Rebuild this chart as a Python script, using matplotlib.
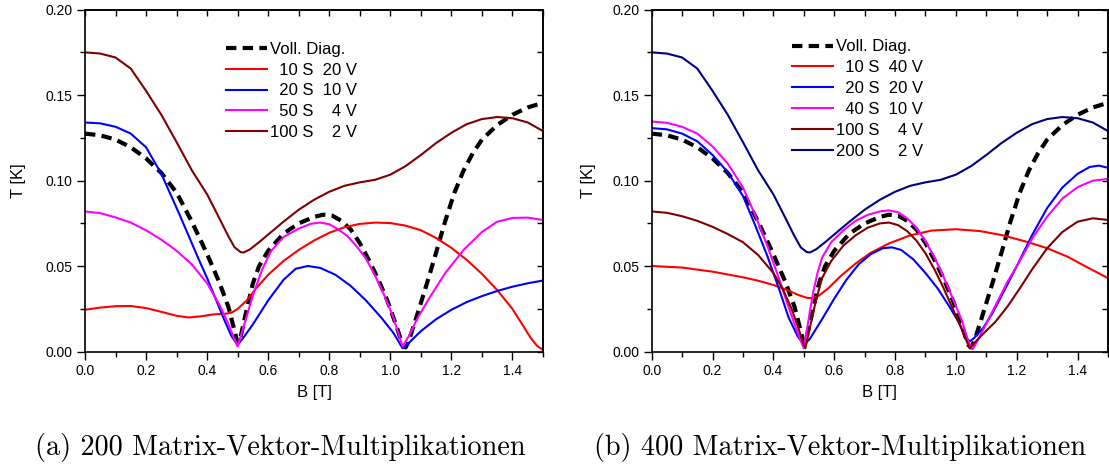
import matplotlib
matplotlib.use("Agg")
import matplotlib.pyplot as plt
from matplotlib.ticker import MultipleLocator, FormatStrFormatter, NullFormatter

plt.rcParams['font.family'] = ['Liberation Sans', 'DejaVu Sans']

# ---------------- data (B in T, T in K) ----------------
# exact diagonalisation (same in both panels)
diag_B = [0.00, 0.05, 0.10, 0.15, 0.20, 0.25, 0.30, 0.35, 0.40, 0.44, 0.47, 0.49, 0.50, 0.51,
          0.53, 0.55, 0.57, 0.60, 0.65, 0.70, 0.75, 0.78, 0.81, 0.84, 0.87, 0.90, 0.93, 0.96,
          0.99, 1.02, 1.04, 1.05, 1.06, 1.08, 1.10, 1.12, 1.15, 1.18, 1.21, 1.24, 1.27, 1.30,
          1.35, 1.40, 1.45, 1.50]
diag_T = [0.1275, 0.1265, 0.1240, 0.1195, 0.1130, 0.1045, 0.0930, 0.0760, 0.0570, 0.0405, 0.0260,
          0.0120, 0.0050, 0.0090, 0.0250, 0.0400, 0.0500, 0.0590, 0.0690, 0.0750, 0.0788, 0.0801,
          0.0795, 0.0765, 0.0715, 0.0635, 0.0535, 0.0425, 0.0300, 0.0150, 0.0040, 0.0025, 0.0060,
          0.0170, 0.0285, 0.0400, 0.0580, 0.0765, 0.0930, 0.1060, 0.1160, 0.1240, 0.1325, 0.1385,
          0.1428, 0.1455]

# curve with 2 vectors (100 S in (a), 200 S in (b))
v2_B = [0.00, 0.05, 0.10, 0.15, 0.20, 0.25, 0.30, 0.35, 0.40, 0.44, 0.47, 0.49, 0.51, 0.52, 0.54,
        0.57, 0.60, 0.65, 0.70, 0.75, 0.80, 0.85, 0.90, 0.95, 1.00, 1.05, 1.10, 1.15, 1.20, 1.25,
        1.30, 1.35, 1.40, 1.45, 1.50]
v2_T = [0.1750, 0.1743, 0.1720, 0.1655, 0.1525, 0.1385, 0.1225, 0.1060, 0.0920, 0.0780, 0.0673,
        0.0610, 0.0582, 0.0580, 0.0598, 0.0640, 0.0685, 0.0760, 0.0830, 0.0888, 0.0935, 0.0970,
        0.0990, 0.1005, 0.1035, 0.1085, 0.1150, 0.1220, 0.1280, 0.1330, 0.1360, 0.1372, 0.1365,
        0.1340, 0.1290]

# panel (a): 200 matrix-vector multiplications
a_red_B = [0.00, 0.05, 0.10, 0.15, 0.20, 0.25, 0.30, 0.34, 0.38, 0.42, 0.46, 0.48, 0.50, 0.53, 0.56,
           0.60, 0.65, 0.70, 0.75, 0.80, 0.85, 0.90, 0.95, 1.00, 1.05, 1.10, 1.15, 1.20, 1.25, 1.30,
           1.35, 1.40, 1.43, 1.46, 1.48, 1.50]
a_red_T = [0.0245, 0.0258, 0.0266, 0.0267, 0.0255, 0.0233, 0.0210, 0.0200, 0.0207, 0.0218, 0.0222,
           0.0228, 0.0250, 0.0300, 0.0370, 0.0450, 0.0530, 0.0595, 0.0650, 0.0695, 0.0728, 0.0747,
           0.0755, 0.0752, 0.0737, 0.0710, 0.0665, 0.0607, 0.0537, 0.0455, 0.0360, 0.0250, 0.0165,
           0.0080, 0.0035, 0.0010]

a_blue_B = [0.00, 0.05, 0.10, 0.15, 0.20, 0.25, 0.28, 0.31, 0.34, 0.37, 0.40, 0.43, 0.46, 0.48, 0.50,
            0.52, 0.55, 0.60, 0.65, 0.69, 0.73, 0.77, 0.82, 0.87, 0.92, 0.97, 1.01, 1.04, 1.06, 1.10,
            1.15, 1.20, 1.25, 1.30, 1.35, 1.40, 1.45, 1.50]
a_blue_T = [0.1340, 0.1335, 0.1315, 0.1275, 0.1195, 0.1040, 0.0920, 0.0800, 0.0675, 0.0550, 0.0430,
            0.0300, 0.0170, 0.0090, 0.0040, 0.0085, 0.0160, 0.0300, 0.0420, 0.0485, 0.0501, 0.0490,
            0.0450, 0.0385, 0.0300, 0.0200, 0.0110, 0.0020, 0.0050, 0.0120, 0.0190, 0.0245, 0.0290,
            0.0325, 0.0355, 0.0380, 0.0400, 0.0416]

a_mag_B = [0.00, 0.05, 0.10, 0.15, 0.20, 0.25, 0.30, 0.35, 0.40, 0.44, 0.47, 0.49, 0.50, 0.52, 0.55,
           0.58, 0.61, 0.65, 0.70, 0.74, 0.77, 0.80, 0.83, 0.86, 0.89, 0.92, 0.95, 0.98, 1.01, 1.04,
           1.06, 1.09, 1.13, 1.18, 1.24, 1.30, 1.35, 1.40, 1.45, 1.50]
a_mag_T = [0.0820, 0.0810, 0.0785, 0.0755, 0.0710, 0.0655, 0.0590, 0.0510, 0.0400, 0.0275, 0.0160,
           0.0070, 0.0030, 0.0150, 0.0330, 0.0480, 0.0590, 0.0670, 0.0720, 0.0748, 0.0755, 0.0745,
           0.0715, 0.0675, 0.0615, 0.0545, 0.0445, 0.0330, 0.0200, 0.0030, 0.0090, 0.0200, 0.0320,
           0.0460, 0.0595, 0.0700, 0.0760, 0.0782, 0.0784, 0.0770]

# panel (b): 400 matrix-vector multiplications
b_red_B = [0.00, 0.10, 0.20, 0.30, 0.35, 0.40, 0.45, 0.48, 0.51, 0.53, 0.55, 0.58, 0.62, 0.67, 0.72,
           0.78, 0.85, 0.92, 1.00, 1.08, 1.15, 1.23, 1.30, 1.37, 1.43, 1.50]
b_red_T = [0.0501, 0.0492, 0.0468, 0.0435, 0.0415, 0.0390, 0.0357, 0.0333, 0.0315, 0.0313, 0.0328,
           0.0370, 0.0440, 0.0515, 0.0578, 0.0633, 0.0680, 0.0708, 0.0716, 0.0705, 0.0682, 0.0644,
           0.0605, 0.0553, 0.0495, 0.0430]

b_blue_B = [0.00, 0.05, 0.10, 0.15, 0.20, 0.25, 0.30, 0.34, 0.38, 0.42, 0.45, 0.48, 0.50, 0.52, 0.56,
            0.60, 0.64, 0.68, 0.72, 0.76, 0.79, 0.82, 0.86, 0.90, 0.94, 0.98, 1.01, 1.03, 1.045,
            1.06, 1.09, 1.12, 1.16, 1.20, 1.25, 1.30, 1.35, 1.40, 1.44, 1.47, 1.50]
b_blue_T = [0.1307, 0.1300, 0.1275, 0.1230, 0.1150, 0.1050, 0.0910, 0.0740, 0.0560, 0.0360, 0.0200,
            0.0090, 0.0040, 0.0075, 0.0190, 0.0310, 0.0420, 0.0510, 0.0570, 0.0605, 0.0610, 0.0595,
            0.0540, 0.0460, 0.0370, 0.0260, 0.0170, 0.0090, 0.0060, 0.0080, 0.0140, 0.0225, 0.0360,
            0.0500, 0.0680, 0.0840, 0.0960, 0.1040, 0.1080, 0.1088, 0.1075]

b_mag_B = [0.00, 0.05, 0.10, 0.15, 0.20, 0.25, 0.30, 0.34, 0.38, 0.42, 0.45, 0.48, 0.50, 0.515, 0.53,
           0.545, 0.56, 0.59, 0.63, 0.67, 0.71, 0.75, 0.78, 0.81, 0.84, 0.87, 0.90, 0.93, 0.96,
           0.99, 1.02, 1.04, 1.055, 1.07, 1.10, 1.13, 1.17, 1.21, 1.25, 1.30, 1.35, 1.40, 1.45, 1.50]
b_mag_T = [0.1346, 0.1338, 0.1315, 0.1275, 0.1200, 0.1100, 0.0960, 0.0800, 0.0620, 0.0420, 0.0260,
           0.0110, 0.0020, 0.0180, 0.0340, 0.0460, 0.0550, 0.0640, 0.0710, 0.0765, 0.0800, 0.0820,
           0.0826, 0.0815, 0.0780, 0.0725, 0.0645, 0.0550, 0.0435, 0.0310, 0.0180, 0.0060, 0.0015,
           0.0060, 0.0165, 0.0270, 0.0410, 0.0530, 0.0660, 0.0790, 0.0895, 0.0962, 0.1000, 0.1010]

b_brown_B = [0.00, 0.05, 0.10, 0.15, 0.20, 0.25, 0.30, 0.35, 0.40, 0.43, 0.46, 0.48, 0.50, 0.505,
             0.52, 0.54, 0.56, 0.59, 0.63, 0.67, 0.71, 0.75, 0.78, 0.81, 0.84, 0.87, 0.90, 0.93,
             0.96, 0.99, 1.02, 1.045, 1.06, 1.09, 1.13, 1.17, 1.21, 1.25, 1.30, 1.35, 1.40, 1.45, 1.50]
b_brown_T = [0.0820, 0.0812, 0.0792, 0.0765, 0.0730, 0.0688, 0.0640, 0.0565, 0.0460, 0.0370, 0.0250,
             0.0150, 0.0040, 0.0020, 0.0140, 0.0300, 0.0430, 0.0530, 0.0620, 0.0680, 0.0725, 0.0750,
             0.0755, 0.0740, 0.0705, 0.0650, 0.0575, 0.0480, 0.0370, 0.0250, 0.0130, 0.0020, 0.0050,
             0.0105, 0.0175, 0.0265, 0.0370, 0.0480, 0.0605, 0.0700, 0.0760, 0.0780, 0.0770]

labels_a = ['Voll. Diag.', '  10 S  20 V', '  20 S  10 V', '  50 S    4 V', '100 S    2 V']
labels_b = ['Voll. Diag.', '  10 S  40 V', '  20 S  20 V', '  40 S  10 V', '100 S    4 V', '200 S    2 V']
captions = ['(a) 200 Matrix-Vektor-Multiplikationen', '(b) 400 Matrix-Vektor-Multiplikationen']

RED, BLUE, MAG, BROWN, NAVY = '#ff0000', '#0000ff', '#ff00ff', '#800000', '#000080'

W, H = 1109, 470
fig = plt.figure(figsize=(W / 100, H / 100), dpi=100)
bottom = (H - 351.7) / H
height = 342.1 / H
ax1 = fig.add_axes([85 / W, bottom, 458 / W, height])
ax2 = fig.add_axes([651.7 / W, bottom, 456.3 / W, height])


def style(ax, ylab_x):
    ax.set_xlim(0, 1.5)
    ax.set_ylim(0, 0.2)
    ax.xaxis.set_major_locator(MultipleLocator(0.2))
    ax.xaxis.set_minor_locator(MultipleLocator(0.1))
    ax.yaxis.set_major_locator(MultipleLocator(0.05))
    ax.yaxis.set_minor_locator(MultipleLocator(0.025))
    ax.xaxis.set_major_formatter(FormatStrFormatter('%.1f'))
    ax.yaxis.set_major_formatter(FormatStrFormatter('%.2f'))
    ax.tick_params(which='major', direction='out', length=5.5, width=1.0, labelsize=10, pad=3.5)
    ax.tick_params(which='minor', direction='out', length=3.5, width=1.0)
    for s in ax.spines.values():
        s.set_linewidth(1.2)
    top = ax.secondary_xaxis('top')
    top.xaxis.set_major_locator(MultipleLocator(0.1))
    top.xaxis.set_major_formatter(NullFormatter())
    top.tick_params(direction='in', length=4, width=1.0)
    top.spines['top'].set_linewidth(1.2)
    right = ax.secondary_yaxis('right')
    right.yaxis.set_major_locator(MultipleLocator(0.025))
    right.yaxis.set_major_formatter(NullFormatter())
    right.tick_params(direction='in', length=4, width=1.0)
    right.spines['right'].set_linewidth(1.2)
    ax.set_xlabel('B [T]', fontsize=12)
    ax.set_ylabel('T [K]', fontsize=12)
    ax.xaxis.set_label_coords(0.5, -0.097)
    ax.yaxis.set_label_coords(ylab_x, 0.5)


DASH = dict(color='black', lw=3.0, dashes=(2.5, 1.5))
LW = 1.5
LEG = dict(loc='upper left', frameon=False, fontsize=12, handlelength=2.46, handletextpad=0.18,
           labelspacing=0.35, borderpad=0, borderaxespad=0)

# panel (a)
ax1.plot(diag_B, diag_T, label=labels_a[0], **DASH)
ax1.plot(a_red_B, a_red_T, color=RED, lw=LW, label=labels_a[1])
ax1.plot(a_blue_B, a_blue_T, color=BLUE, lw=LW, label=labels_a[2])
ax1.plot(a_mag_B, a_mag_T, color=MAG, lw=LW, label=labels_a[3])
ax1.plot(v2_B, v2_T, color=BROWN, lw=LW, label=labels_a[4])
style(ax1, -0.129)
ax1.legend(bbox_to_anchor=(0.308, 0.906), **LEG)

# panel (b)
ax2.plot(diag_B, diag_T, label=labels_b[0], **DASH)
ax2.plot(b_red_B, b_red_T, color=RED, lw=LW, label=labels_b[1])
ax2.plot(b_blue_B, b_blue_T, color=BLUE, lw=LW, label=labels_b[2])
ax2.plot(b_mag_B, b_mag_T, color=MAG, lw=LW, label=labels_b[3])
ax2.plot(b_brown_B, b_brown_T, color=BROWN, lw=LW, label=labels_b[4])
ax2.plot(v2_B, v2_T, color=NAVY, lw=LW, label=labels_b[5])
style(ax2, -0.122)
ax2.legend(bbox_to_anchor=(0.3085, 0.913), **LEG)

fig.text(280 / W, 1 - 447 / H, captions[0], ha='center', va='center', family='cmr10', fontsize=20.3)
fig.text(840 / W, 1 - 447 / H, captions[1], ha='center', va='center', family='cmr10', fontsize=20.3)

fig.savefig('out.png', dpi=100)
